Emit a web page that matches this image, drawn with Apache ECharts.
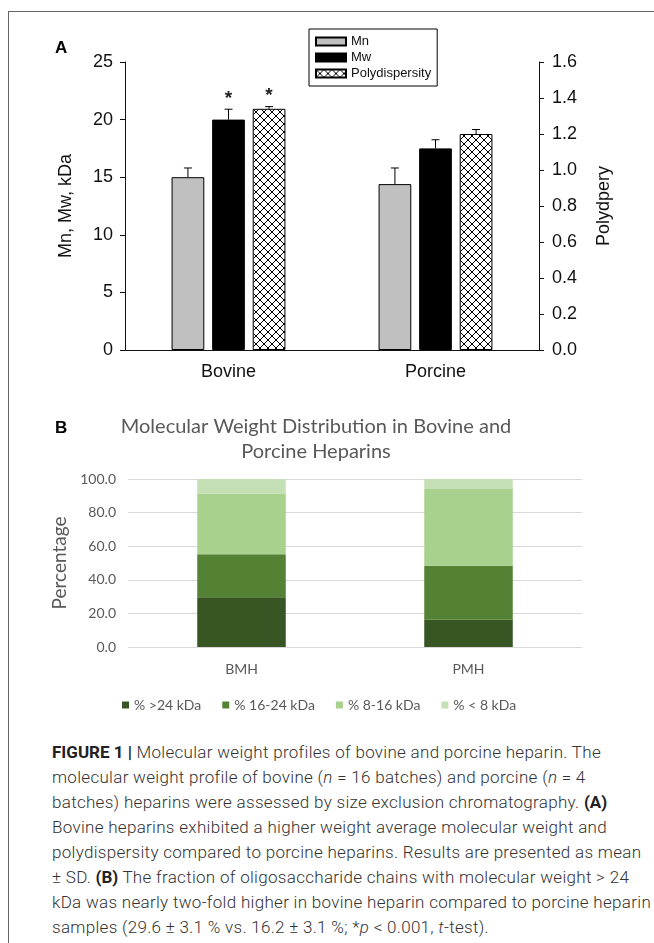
<!DOCTYPE html>
<html lang="en">
<head>
  <meta charset="UTF-8">
  <title>Molecular weight profiles of bovine and porcine heparin</title>
  <script src="https://cdn.jsdelivr.net/npm/echarts@6/dist/echarts.min.js"></script>
  <style>
    html, body { margin: 0; padding: 0; background: #fff; }
    body { width: 654px; height: 943px; position: relative; overflow: hidden; }
    #frame { position: absolute; left: 8px; top: 11px; right: -2px; bottom: -2px;
      border-left: 1px solid #666; border-top: 1px solid #666; }
    #chart { position: absolute; left: 0; top: 0; width: 654px; height: 725px; }
    #caption { position: absolute; left: 52px; top: 740px; width: 610px;
      font-family: Roboto, "Liberation Sans", sans-serif; font-weight: 300;
      font-size: 17px; letter-spacing: 0.3px; line-height: 25px; color: #333; white-space: nowrap; }
    #caption b { font-weight: 700; color: #222; letter-spacing: 0; }
  </style>
</head>
<body>
  <div id="frame"></div>
  <div id="chart"></div>
  <div id="caption">
    <b>FIGURE 1 |</b> Molecular weight profiles of bovine and porcine heparin. The<br>
    molecular weight profile of bovine (<i>n</i> = 16 batches) and porcine (<i>n</i> = 4<br>
    batches) heparins were assessed by size exclusion chromatography. <b>(A)</b><br>
    Bovine heparins exhibited a higher weight average molecular weight and<br>
    polydispersity compared to porcine heparins. Results are presented as mean<br>
    ± SD. <b>(B)</b> The fraction of oligosaccharide chains with molecular weight &gt; 24<br>
    kDa was nearly two-fold higher in bovine heparin compared to porcine heparin<br>
    samples (29.6 ± 3.1 % vs. 16.2 ± 3.1 %; *<i>p</i> &lt; 0.001, <i>t</i>-test).
  </div>

  <script>
    // panel A
    var groups = ['Bovine', 'Porcine'];
    var mnMean = [15.0, 14.4];
    var mnSD = [0.8, 1.4];
    var mwMean = [20.0, 17.5];
    var mwSD = [0.9, 0.75];
    var pdMean = [1.34, 1.20];
    var pdSD = [0.012, 0.025];
    var mwMarks = ['*', ''];
    var pdMarks = ['*', ''];

    // panel B
    var samples = ['BMH', 'PMH'];
    var gt24 = [29.6, 16.2];
    var r16to24 = [25.6, 32.2];
    var r8to16 = [36.1, 45.6];
    var lt8 = [8.7, 6.0];

    var fontA = '"Liberation Sans", Arial, sans-serif';
    var fontB = 'Lato, "Open Sans", sans-serif';
    var gapCat = 0.45, gapBar = 0.24;

    // crosshatch for polydispersity
    var tile = document.createElement('canvas');
    tile.width = 8; tile.height = 8;
    var g = tile.getContext('2d');
    g.fillStyle = '#fff'; g.fillRect(0, 0, 8, 8);
    g.strokeStyle = '#000'; g.lineWidth = 1;
    g.beginPath();
    g.moveTo(0, 0); g.lineTo(8, 8);
    g.moveTo(8, 0); g.lineTo(0, 8);
    g.stroke();

    function errData(mean, sd) {
      return mean.map(function (v, i) { return [i, v, sd[i]]; });
    }

    function errRender(pos, marks) {
      return function (params, api) {
        var base = api.coord([api.value(0), api.value(1)]);
        var top = api.coord([api.value(0), api.value(1) + api.value(2)]);
        var catW = api.size([1, 0])[0];
        var bw = catW * (1 - gapCat) / (3 + 2 * gapBar);
        var x = base[0] + (pos - 1) * bw * (1 + gapBar);
        var kids = [
          { type: 'line', shape: { x1: x, y1: base[1], x2: x, y2: top[1] }, style: { stroke: '#000', lineWidth: 1 } },
          { type: 'line', shape: { x1: x - 4, y1: top[1], x2: x + 4, y2: top[1] }, style: { stroke: '#000', lineWidth: 1 } }
        ];
        var m = marks && marks[params.dataIndex];
        if (m) {
          kids.push({ type: 'text', x: x, y: top[1] - 1,
            style: { text: m, fill: '#222', font: 'bold 19px ' + fontA, align: 'center', verticalAlign: 'bottom' } });
        }
        return { type: 'group', children: kids };
      };
    }

    var chart = echarts.init(document.getElementById('chart'));
    chart.setOption({
      animation: false,
      title: [
        { text: 'A', left: 50, top: 35, textStyle: { fontFamily: fontA, fontSize: 17, fontWeight: 'bold', color: '#000' } },
        { text: 'B', left: 50, top: 415, textStyle: { fontFamily: fontA, fontSize: 17, fontWeight: 'bold', color: '#000' } },
        { text: 'Molecular Weight Distribution in Bovine and\nPorcine Heparins', left: 311, top: 409, textAlign: 'center',
          textStyle: { fontFamily: fontB, fontSize: 20, fontWeight: 'normal', lineHeight: 25, color: '#595959' } }
      ],
      legend: [
        { data: ['Mn', 'Mw', 'Polydispersity'], orient: 'vertical', left: 309, top: 29,
          icon: 'rect', itemWidth: 30, itemHeight: 8, itemGap: 3, padding: [6, 6, 6, 6],
          borderColor: '#000', borderWidth: 1,
          textStyle: { fontFamily: fontA, fontSize: 13, color: '#111' } },
        { data: ['% >24 kDa', '% 16-24 kDa', '% 8-16 kDa', '% < 8 kDa'], left: 117, top: 693,
          icon: 'rect', itemWidth: 7, itemHeight: 7, itemGap: 21,
          textStyle: { fontFamily: fontB, fontSize: 14, color: '#595959' } }
      ],
      grid: [
        { left: 125, width: 414, top: 62, height: 288 },
        { left: 128, width: 454, top: 479, height: 168 }
      ],
      xAxis: [
        { type: 'category', gridIndex: 0, data: groups,
          axisLine: { lineStyle: { color: '#111' } },
          axisTick: { alignWithLabel: true, length: 5, lineStyle: { color: '#111' } },
          axisLabel: { fontFamily: fontA, fontSize: 18, color: '#111', margin: 13 } },
        { type: 'category', gridIndex: 1, data: samples,
          axisLine: { show: false }, axisTick: { show: false },
          axisLabel: { fontFamily: fontB, fontSize: 14, color: '#595959', margin: 15 } }
      ],
      yAxis: [
        { type: 'value', gridIndex: 0, min: 0, max: 25, interval: 5,
          name: 'Mn, Mw, kDa', nameLocation: 'middle', nameRotate: 90, nameGap: 50,
          nameTextStyle: { fontFamily: fontA, fontSize: 18, color: '#111' },
          axisLine: { show: true, lineStyle: { color: '#111' } },
          axisTick: { show: true, length: 5, lineStyle: { color: '#111' } },
          axisLabel: { fontFamily: fontA, fontSize: 18, color: '#111', margin: 12 },
          splitLine: { show: false } },
        { type: 'value', gridIndex: 0, position: 'right', min: 0, max: 1.6, interval: 0.2,
          name: 'Polydpery', nameLocation: 'middle', nameRotate: 90, nameGap: 56,
          nameTextStyle: { fontFamily: fontA, fontSize: 18, color: '#111' },
          axisLine: { show: true, lineStyle: { color: '#111' } },
          axisTick: { show: true, length: 5, lineStyle: { color: '#111' } },
          axisLabel: { fontFamily: fontA, fontSize: 18, color: '#111', margin: 13,
            formatter: function (v) { return v.toFixed(1); } },
          splitLine: { show: false } },
        { type: 'value', gridIndex: 1, min: 0, max: 100, interval: 20,
          name: 'Percentage', nameLocation: 'middle', nameRotate: 90, nameGap: 58,
          nameTextStyle: { fontFamily: fontB, fontSize: 19, color: '#595959' },
          axisLine: { show: false }, axisTick: { show: false },
          axisLabel: { fontFamily: fontB, fontSize: 14, color: '#595959', margin: 12,
            formatter: function (v) { return v.toFixed(1); } },
          splitLine: { lineStyle: { color: '#d9d9d9', width: 1 } } }
      ],
      series: [
        { name: 'Mn', type: 'bar', xAxisIndex: 0, yAxisIndex: 0, data: mnMean,
          barCategoryGap: '45%', barGap: '24%',
          itemStyle: { color: '#c0c0c0', borderColor: '#000', borderWidth: 1 } },
        { name: 'Mw', type: 'bar', xAxisIndex: 0, yAxisIndex: 0, data: mwMean,
          itemStyle: { color: '#000', borderColor: '#000', borderWidth: 1 } },
        { name: 'Polydispersity', type: 'bar', xAxisIndex: 0, yAxisIndex: 1, data: pdMean,
          itemStyle: { color: { image: tile, repeat: 'repeat' }, borderColor: '#000', borderWidth: 1 } },
        { type: 'custom', xAxisIndex: 0, yAxisIndex: 0, data: errData(mnMean, mnSD), renderItem: errRender(0), z: 5 },
        { type: 'custom', xAxisIndex: 0, yAxisIndex: 0, data: errData(mwMean, mwSD), renderItem: errRender(1, mwMarks), z: 5 },
        { type: 'custom', xAxisIndex: 0, yAxisIndex: 1, data: errData(pdMean, pdSD), renderItem: errRender(2, pdMarks), z: 5 },

        { name: '% >24 kDa', type: 'bar', stack: 'mw', xAxisIndex: 1, yAxisIndex: 2, data: gt24,
          barCategoryGap: '61%', itemStyle: { color: '#375623' } },
        { name: '% 16-24 kDa', type: 'bar', stack: 'mw', xAxisIndex: 1, yAxisIndex: 2, data: r16to24,
          itemStyle: { color: '#548235' } },
        { name: '% 8-16 kDa', type: 'bar', stack: 'mw', xAxisIndex: 1, yAxisIndex: 2, data: r8to16,
          itemStyle: { color: '#a9d18e' } },
        { name: '% < 8 kDa', type: 'bar', stack: 'mw', xAxisIndex: 1, yAxisIndex: 2, data: lt8,
          itemStyle: { color: '#c5e0b4' } }
      ]
    });
  </script>
</body>
</html>
